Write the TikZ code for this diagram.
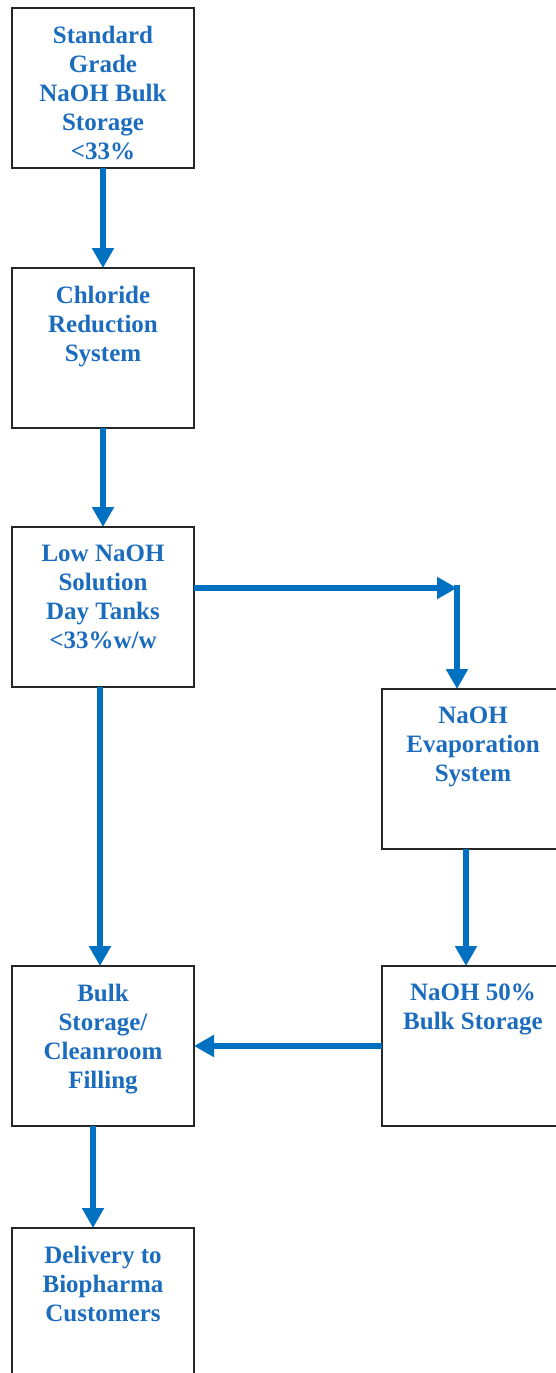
\documentclass[tikz,border=0pt]{standalone}
\usepackage{fontspec}
\setmainfont{LiberationSerif-Regular.ttf}[BoldFont=LiberationSerif-Bold.ttf]
\usetikzlibrary{arrows.meta}
\definecolor{flowblue}{RGB}{0,112,192}
\definecolor{labelblue}{RGB}{28,108,190}
\newcommand{\boxlines}[1]{\parbox[t][160pt][t]{176pt}{\centering\vspace*{18pt}#1}}
\begin{document}
\begin{tikzpicture}[x=1pt,y=-1pt,inner sep=0pt,outer sep=0pt,
procbox/.style={draw=black!85,rectangle,line width=2pt,minimum width=182pt,minimum height=160pt,font=\fontsize{25}{29}\selectfont\bfseries,text=labelblue},
flow/.style={draw=flowblue,line width=6pt,-{Triangle[width=21pt,length=20pt]}}]
\useasboundingbox (0,0) rectangle (556,1373);
\draw (103,88) node[procbox] (store) {\boxlines{Standard\\Grade\\NaOH Bulk\\Storage\\<33\%}};
\draw (103,348) node[procbox] (chlor) {\boxlines{Chloride\\Reduction\\System}};
\draw (103,607) node[procbox] (day) {\boxlines{Low NaOH\\Solution\\Day Tanks\\<33\%w/w}};
\draw (473,769) node[procbox] (evap) {\boxlines{NaOH\\Evaporation\\System}};
\draw (473,1046) node[procbox] (rbulk) {\boxlines{NaOH 50\%\\Bulk Storage}};
\draw (103,1046) node[procbox] (fill) {\boxlines{Bulk\\Storage/\\Cleanroom\\Filling}};
\draw (103,1308) node[procbox] (dlv) {\boxlines{Delivery to\\Biopharma\\Customers}};
\coordinate (bend) at (457,588);
\draw[flow] (store) -- (chlor);
\draw[flow] (chlor) -- (day);
\draw[flow] (bend -| day.east) -- (bend);
\draw[flow] ([yshift=3pt]bend) -- (bend |- evap.north);
\draw[flow] ([xshift=-3pt]day.south) -- ([xshift=-3pt]fill.north);
\draw[flow] ([xshift=-7pt]evap.south) -- ([xshift=-7pt]rbulk.north);
\draw[flow] (rbulk.west) -- (fill.east);
\draw[flow] ([xshift=-10pt]fill.south) -- ([xshift=-10pt]dlv.north);
\end{tikzpicture}
\end{document}
